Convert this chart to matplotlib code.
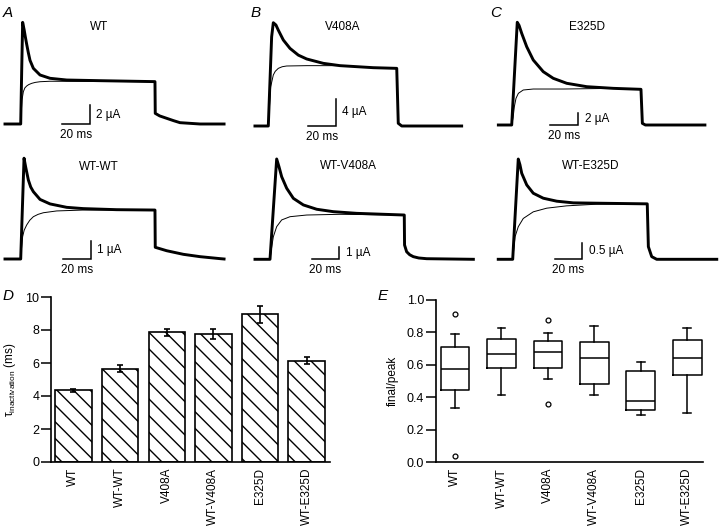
import matplotlib
matplotlib.use("Agg")
import matplotlib.pyplot as plt

plt.rcParams["font.family"] = ["Liberation Sans", "DejaVu Sans"]
plt.rcParams["hatch.linewidth"] = 1.0
plt.rcParams["mathtext.fontset"] = "custom"
plt.rcParams["mathtext.rm"] = "Liberation Sans"

# ---------------------------------------------------------------- trace data (ms, uA)
# A: WT / WT-WT
t_wt = [-11.3, 0, 0.7, 1.4, 2.5, 3.3, 4.3, 5.5, 6.7, 9.1, 13.9, 21.1, 33.1, 57, 96.6,
        96.8, 100, 105, 110, 114.6, 129, 146.3]
i_wt = [0, 0, 5.5, 10.7, 9.9, 9.2, 8.4, 7.5, 6.7, 5.86, 5.16, 4.81, 4.63, 4.56, 4.46,
        1.12, 0.85, 0.6, 0.35, 0.14, 0, 0]
t_wt_fit = [0, 0.3, 0.94, 1.9, 3.0, 4.3, 5.8, 7.9, 10.5, 13.9, 21.1, 96.6]
i_wt_fit = [0, 1.0, 2.53, 3.4, 3.8, 4.0, 4.15, 4.28, 4.38, 4.45, 4.5, 4.46]

t_wtwt = [-11.3, 0, 2.4, 3.6, 5.5, 7.2, 9.1, 13.9, 21.1, 33.1, 45, 69, 96.6,
          96.8, 105, 117, 129, 143.4, 146.3]
i_wtwt = [0, 0, 5.6, 5.1, 4.39, 4.0, 3.74, 3.31, 3.06, 2.87, 2.8, 2.74, 2.72,
          0.65, 0.46, 0.26, 0.13, 0.02, 0]
t_wtwt_fit = [0, 0.6, 1.4, 2.5, 4.3, 6.5, 9.1, 12.5, 16.3, 25.9, 45, 96.6]
i_wtwt_fit = [0, 0.6, 1.24, 1.6, 1.89, 2.15, 2.35, 2.48, 2.57, 2.67, 2.72, 2.72]

# B: V408A / WT-V408A
t_v408a = [-9.6, 0, 2.4, 3.6, 5.5, 7.2, 10.8, 15.6, 21.6, 27.6, 39.6, 51.6, 75.5, 92.4,
           93.5, 96, 139.1]
i_v408a = [0, 0, 13.2, 15.3, 14.96, 14.2, 12.74, 11.5, 10.5, 9.93, 9.28, 8.94, 8.64, 8.54,
           0.4, 0, 0]
t_v408a_fit = [0, 1.7, 3.6, 5.0, 7.2, 10.0, 13.2, 27.6, 51.6, 75.5, 92.4]
i_v408a_fit = [0, 5.8, 7.56, 8.1, 8.54, 8.78, 8.89, 8.94, 8.94, 8.64, 8.54]

t_wtv408a = [-10.8, 0, 4.8, 6.5, 8.4, 12, 16.8, 24, 33.6, 45.5, 62.4, 96.6,
             96.8, 98.3, 100.5, 103.1, 107, 112.7, 146.3]
i_wtv408a = [0, 0, 8.36, 7.7, 6.88, 5.92, 5.08, 4.53, 4.17, 3.97, 3.83, 3.69,
             1.19, 0.63, 0.38, 0.22, 0.11, 0.05, 0]
t_wtv408a_fit = [0, 1.2, 2.4, 4.8, 8.4, 14.4, 26.4, 50.3, 96.6]
i_wtv408a_fit = [0, 1.0, 1.88, 2.72, 3.28, 3.55, 3.69, 3.75, 3.69]

# C: E325D / WT-E325D
t_e325d = [-9.6, 0, 4.0, 5.3, 7.2, 10.8, 15.5, 22.7, 29.9, 39.6, 54, 73.1, 93,
           94, 96.2, 139]
i_e325d = [0, 0, 16.7, 16.2, 14.9, 12.73, 10.57, 8.67, 7.59, 6.78, 6.23, 5.96, 5.8,
           0.27, 0, 0]
t_e325d_fit = [0, 1.0, 1.9, 3.1, 4.8, 8.3, 15.5, 37.4, 73.1, 93]
i_e325d_fit = [0, 1.2, 2.98, 4.34, 5.15, 5.69, 5.85, 5.85, 5.96, 5.8]

t_wte325d = [-10.4, 0, 4.0, 5.2, 6.5, 10.1, 14.8, 22, 31.7, 43.6, 60.4, 96.8,
             97.6, 100, 103.6, 146.8]
i_wte325d = [0, 0, 3.02, 2.85, 2.59, 2.24, 1.99, 1.84, 1.75, 1.70, 1.69, 1.67,
             0.38, 0.08, 0, 0]
t_wte325d_fit = [0, 1.7, 4.0, 7.6, 14.8, 24.5, 38.8, 60.4, 96.8]
i_wte325d_fit = [0, 0.68, 0.98, 1.23, 1.43, 1.54, 1.61, 1.66, 1.67]

# ---------------------------------------------------------------- D: tau inactivation
constructs = ["WT", "WT-WT", "V408A", "WT-V408A", "E325D", "WT-E325D"]
tau_mean = [4.35, 5.65, 7.85, 7.75, 8.95, 6.15]
tau_err = [0.1, 0.2, 0.2, 0.3, 0.5, 0.2]

# ---------------------------------------------------------------- E: final/peak box stats
box_med = [0.572, 0.665, 0.681, 0.644, 0.377, 0.644]
box_q1 = [0.445, 0.582, 0.582, 0.482, 0.324, 0.537]
box_q3 = [0.711, 0.761, 0.746, 0.738, 0.562, 0.751]
box_lo = [0.336, 0.414, 0.513, 0.412, 0.291, 0.301]
box_hi = [0.790, 0.828, 0.794, 0.841, 0.615, 0.828]
box_fliers = [[0.913, 0.039], [], [0.876, 0.361], [], [], []]

W, H = 720, 530
PX_MS = 1.39
fig = plt.figure(figsize=(W / 100, H / 100), dpi=100)


def trace_axes(x_on, base, px_ua):
    # full-figure transparent axes; data units ms / uA
    ax = fig.add_axes([0, 0, 1, 1])
    ax.set_xlim(-x_on / PX_MS, (W - x_on) / PX_MS)
    ax.set_ylim((base - H) / px_ua, base / px_ua)
    ax.axis("off")
    ax.patch.set_alpha(0)
    return ax


def draw_panel(x_on, base, px_ua, t, i, tf, i_f, title, title_xy, bar_t, bar_ua, ua_label):
    ax = trace_axes(x_on, base, px_ua)
    ax.plot(tf, i_f, color="black", lw=0.7)
    ax.plot(t, i, color="black", lw=2.1, solid_joinstyle="round")
    ax.text(title_xy[0], title_xy[1], title, ha="center", va="center", fontsize=8.5)
    ax.plot([bar_t - 20, bar_t, bar_t], [0, 0, bar_ua], color="black",
            lw=1.1, solid_joinstyle="miter")
    ax.annotate(ua_label, xy=(bar_t, bar_ua / 2), xytext=(4.5, 0), textcoords="offset points",
                ha="left", va="center", fontsize=8.5)
    ax.annotate("20 ms", xy=(bar_t - 10, 0), xytext=(0, -8), textcoords="offset points",
                ha="center", va="center", fontsize=8.5)
    return ax


draw_panel(20.7, 124, 9.5, t_wt, i_wt, t_wt_fit, i_wt_fit, "WT", (56.4, 10.24),
           49.9, 2, "2 µA")
draw_panel(20.7, 259, 18, t_wtwt, i_wtwt, t_wtwt_fit, i_wtwt_fit, "WT-WT", (56.4, 5.11),
           50.4, 1, "1 µA")
draw_panel(268.3, 126, 6.75, t_v408a, i_v408a, t_v408a_fit, i_v408a_fit, "V408A",
           (53.7, 14.67), 48.7, 4, "4 µA")
draw_panel(270, 259.3, 12, t_wtv408a, i_wtv408a, t_wtv408a_fit, i_wtv408a_fit, "WT-V408A",
           (56.8, 7.78), 49.9, 1, "1 µA")
draw_panel(511.7, 125, 6.15, t_e325d, i_e325d, t_e325d_fit, i_e325d_fit, "E325D",
           (54.5, 16.0), 47.9, 2, "2 µA")
draw_panel(512.7, 259.3, 33.2, t_wte325d, i_wte325d, t_wte325d_fit, i_wte325d_fit,
           "WT-E325D", (56.3, 2.81), 50.1, 0.5, "0.5 µA")

# ---------------------------------------------------------------- D
axd = fig.add_axes([51 / W, (H - 462) / H, (330 - 51) / W, (462 - 297) / H])
xs = list(range(len(constructs)))
axd.bar(xs, tau_mean, width=0.78, color="white", edgecolor="black", linewidth=1.2,
        hatch="\\\\")
axd.errorbar(xs, tau_mean, yerr=tau_err, fmt="none", ecolor="black", elinewidth=1.2,
             capsize=2.5, capthick=1.2)
axd.set_xlim(-0.48, 5.5)
axd.set_ylim(0, 10)
axd.set_yticks([0, 2, 4, 6, 8, 10])
axd.set_xticks(xs)
axd.set_xticklabels(constructs, rotation=90, fontsize=8.5)
axd.tick_params(axis="x", length=0, pad=4)
axd.tick_params(axis="y", length=7, width=1.1, labelsize=9, pad=1.5)
for s in ["top", "right"]:
    axd.spines[s].set_visible(False)
for s in ["left", "bottom"]:
    axd.spines[s].set_linewidth(1.2)
axd.set_ylabel("τ$_{\\mathrm{inactivation}}$ (ms)", fontsize=8.5, labelpad=5)

# ---------------------------------------------------------------- E
axe = fig.add_axes([436 / W, (H - 462.3) / H, (703 - 436) / W, 162.5 / H])
stats = []
for k, name in enumerate(constructs):
    stats.append(dict(label=name, med=box_med[k], q1=box_q1[k], q3=box_q3[k],
                      whislo=box_lo[k], whishi=box_hi[k], fliers=box_fliers[k]))
line_kw = dict(color="black", linewidth=1.1)
axe.bxp(stats, positions=xs, widths=0.62, capwidths=0.17, boxprops=line_kw,
        whiskerprops=line_kw, capprops=line_kw, medianprops=line_kw,
        flierprops=dict(marker="o", markersize=3.5, markerfacecolor="white",
                        markeredgecolor="black", markeredgewidth=0.9))
axe.set_xlim(-0.41, 5.34)
axe.set_ylim(0, 1.0)
axe.set_yticks([0, 0.2, 0.4, 0.6, 0.8, 1.0])
axe.set_yticklabels(["0.0", "0.2", "0.4", "0.6", "0.8", "1.0"])
axe.set_xticks(xs)
axe.set_xticklabels(constructs, rotation=90, fontsize=8.5)
axe.tick_params(axis="x", length=0, pad=4)
axe.tick_params(axis="y", length=7, width=1.1, labelsize=9, pad=1.5)
for s in ["top", "right"]:
    axe.spines[s].set_visible(False)
for s in ["left", "bottom"]:
    axe.spines[s].set_linewidth(1.2)
axe.set_ylabel("final/peak", fontsize=8.5, labelpad=6)

# ---------------------------------------------------------------- panel letters
for letter, (px, py) in {"A": (8, 13), "B": (256, 13), "C": (496, 13),
                         "D": (8, 296), "E": (383, 296)}.items():
    fig.text(px / W, 1 - py / H, letter, fontsize=11, style="italic",
             ha="center", va="center")

fig.savefig("out.png", dpi=100)
